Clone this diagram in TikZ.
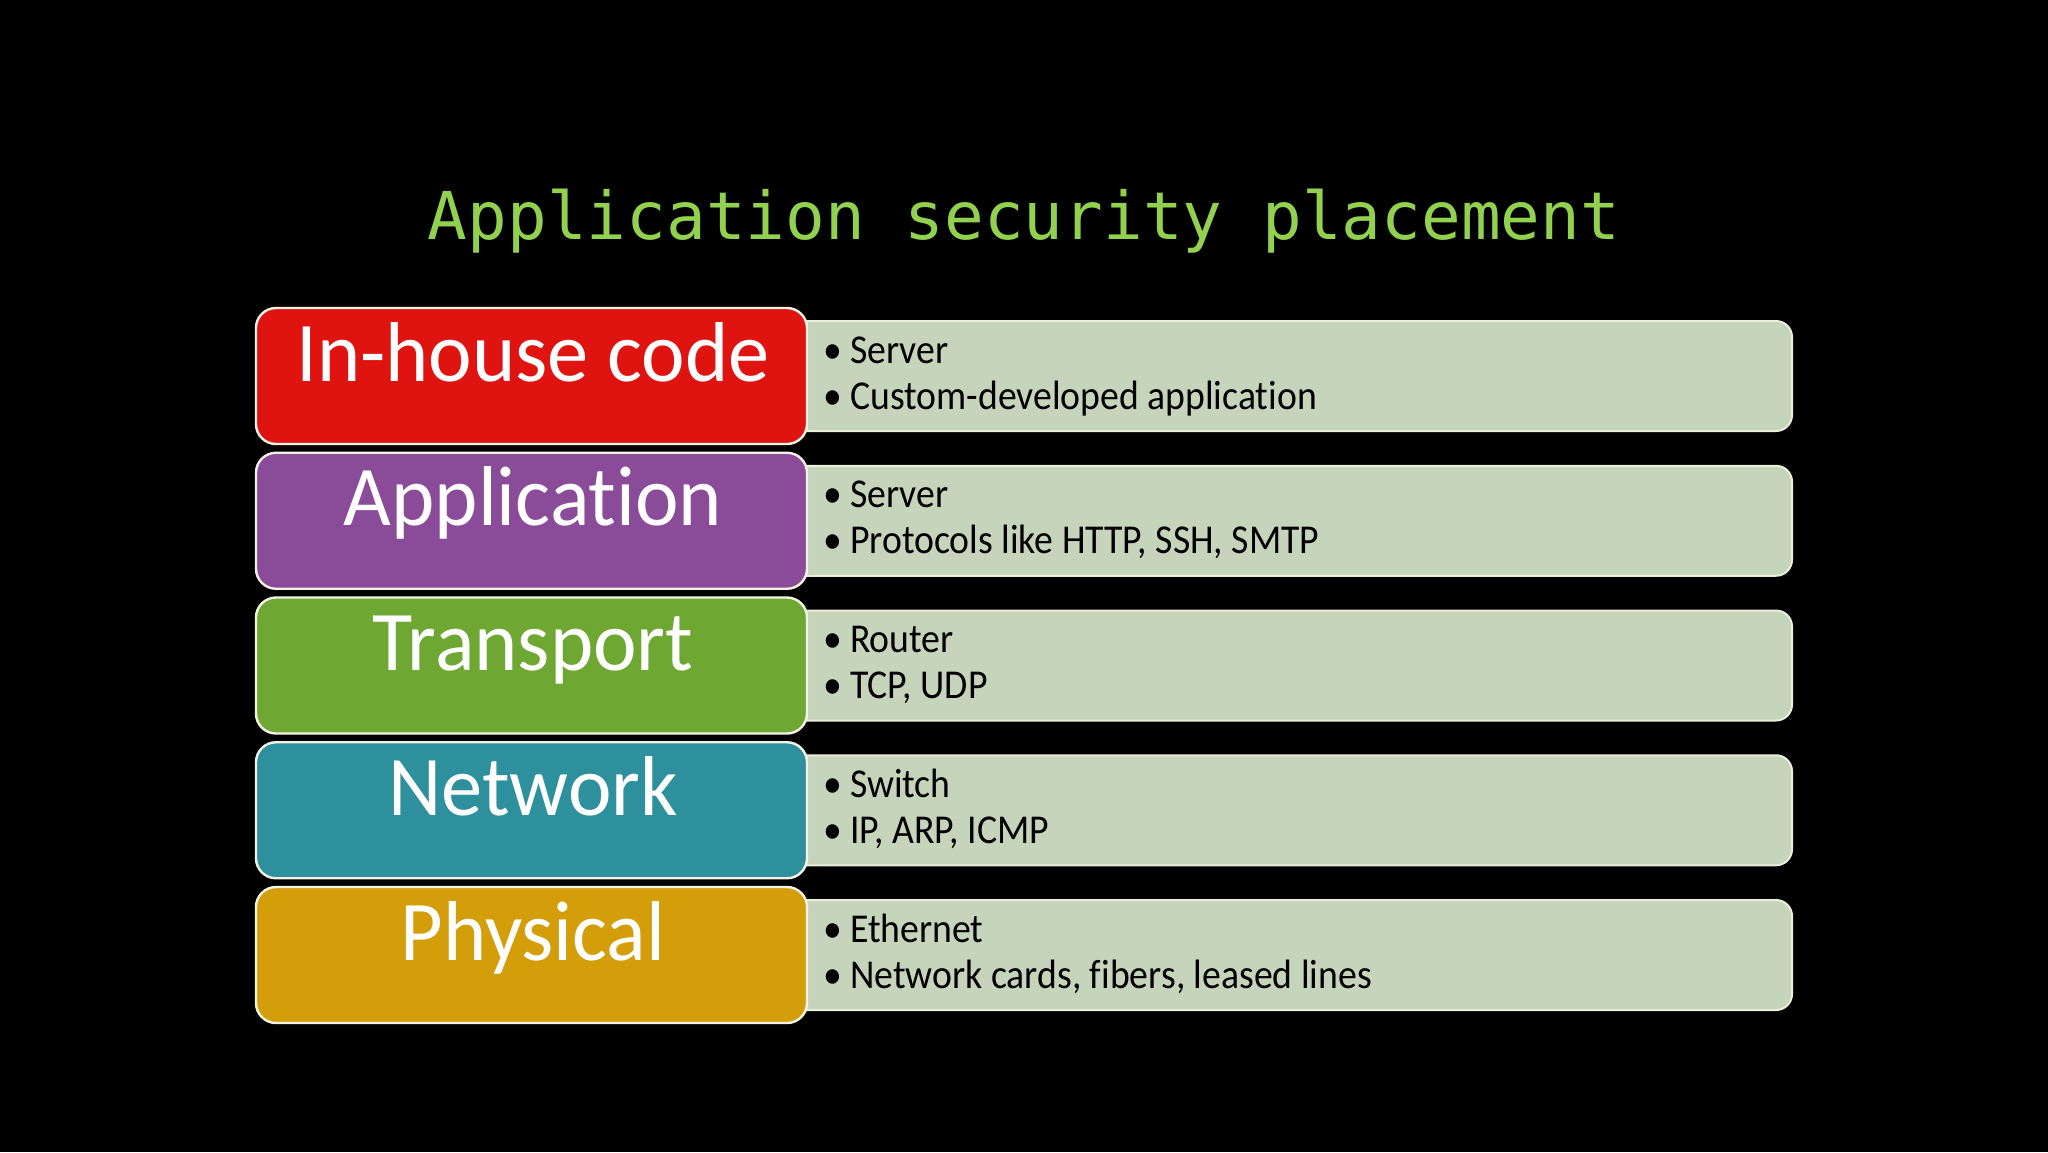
\documentclass[tikz,border=0pt]{standalone}
\usepackage{fontspec}
\setmainfont{Carlito}[Ligatures=NoCommon]
\newfontfamily\labelfont{Carlito}[Ligatures=NoCommon,FakeStretch=0.97]
\newfontfamily\itemfont{Carlito}[Ligatures=NoCommon,FakeStretch=0.92]
\newfontfamily\titlefont{DejaVu Sans Mono}
\definecolor{titlegreen}{HTML}{92D050}
\definecolor{cred}{HTML}{DF1410}
\definecolor{cpurple}{HTML}{8A4B98}
\definecolor{cgreen}{HTML}{6EA832}
\definecolor{cteal}{HTML}{2E909D}
\definecolor{cgold}{HTML}{D49E0B}
\definecolor{cpale}{HTML}{C6D4BB}
\definecolor{cpaleedge}{HTML}{E9EFD9}
\definecolor{cedge}{HTML}{F4F2E4}
\begin{document}
\begin{tikzpicture}[x=0.5pt,y=-0.5pt,
  layerbox/.style={draw=cedge,line width=1.2pt,rounded corners=10pt},
  infobox/.style={fill=cpale,draw=cpaleedge,line width=1pt,rounded corners=8pt},
  layerlabel/.style={anchor=base,text=white,font=\labelfont\fontsize{42.5}{50}\selectfont,inner sep=0pt},
  itemtext/.style={anchor=base west,text=black,font=\itemfont\fontsize{20.5}{24}\selectfont,inner sep=0pt},
  titletext/.style={anchor=base,text=titlegreen,font=\titlefont\fontsize{33}{40}\selectfont,inner sep=0pt}]
\fill[black] (0,0) rectangle (2048,1152);
\useasboundingbox (0,0) rectangle (2048,1152);
\node[titletext] (title) at (1024,239) {Application security placement};
% rows
\foreach \i/\col/\lab/\la/\lb in {
  0/cred/In-house code/Server/Custom-developed application,
  1/cpurple/Application/Server/{Protocols like HTTP, SSH, SMTP},
  2/cgreen/Transport/Router/{TCP, UDP},
  3/cteal/Network/Switch/{IP, ARP, ICMP},
  4/cgold/Physical/Ethernet/{Network cards, fibers, leased lines}}{
  \pgfmathsetmacro{\ty}{308+\i*144.75}
  \path[infobox] (780,\ty+13) rectangle (1792,\ty+123);
  \path[layerbox,fill=\col] (256,\ty) rectangle (807,\ty+136);
  \node[layerlabel] (lab\i) at (533,\ty+73) {\lab};
  \node[itemtext] (ia\i) at (823,\ty+55) {\textbullet\hspace{4pt}\la};
  \node[itemtext] (ib\i) at (823,\ty+101) {\textbullet\hspace{4pt}\lb};
}
\end{tikzpicture}
\end{document}
